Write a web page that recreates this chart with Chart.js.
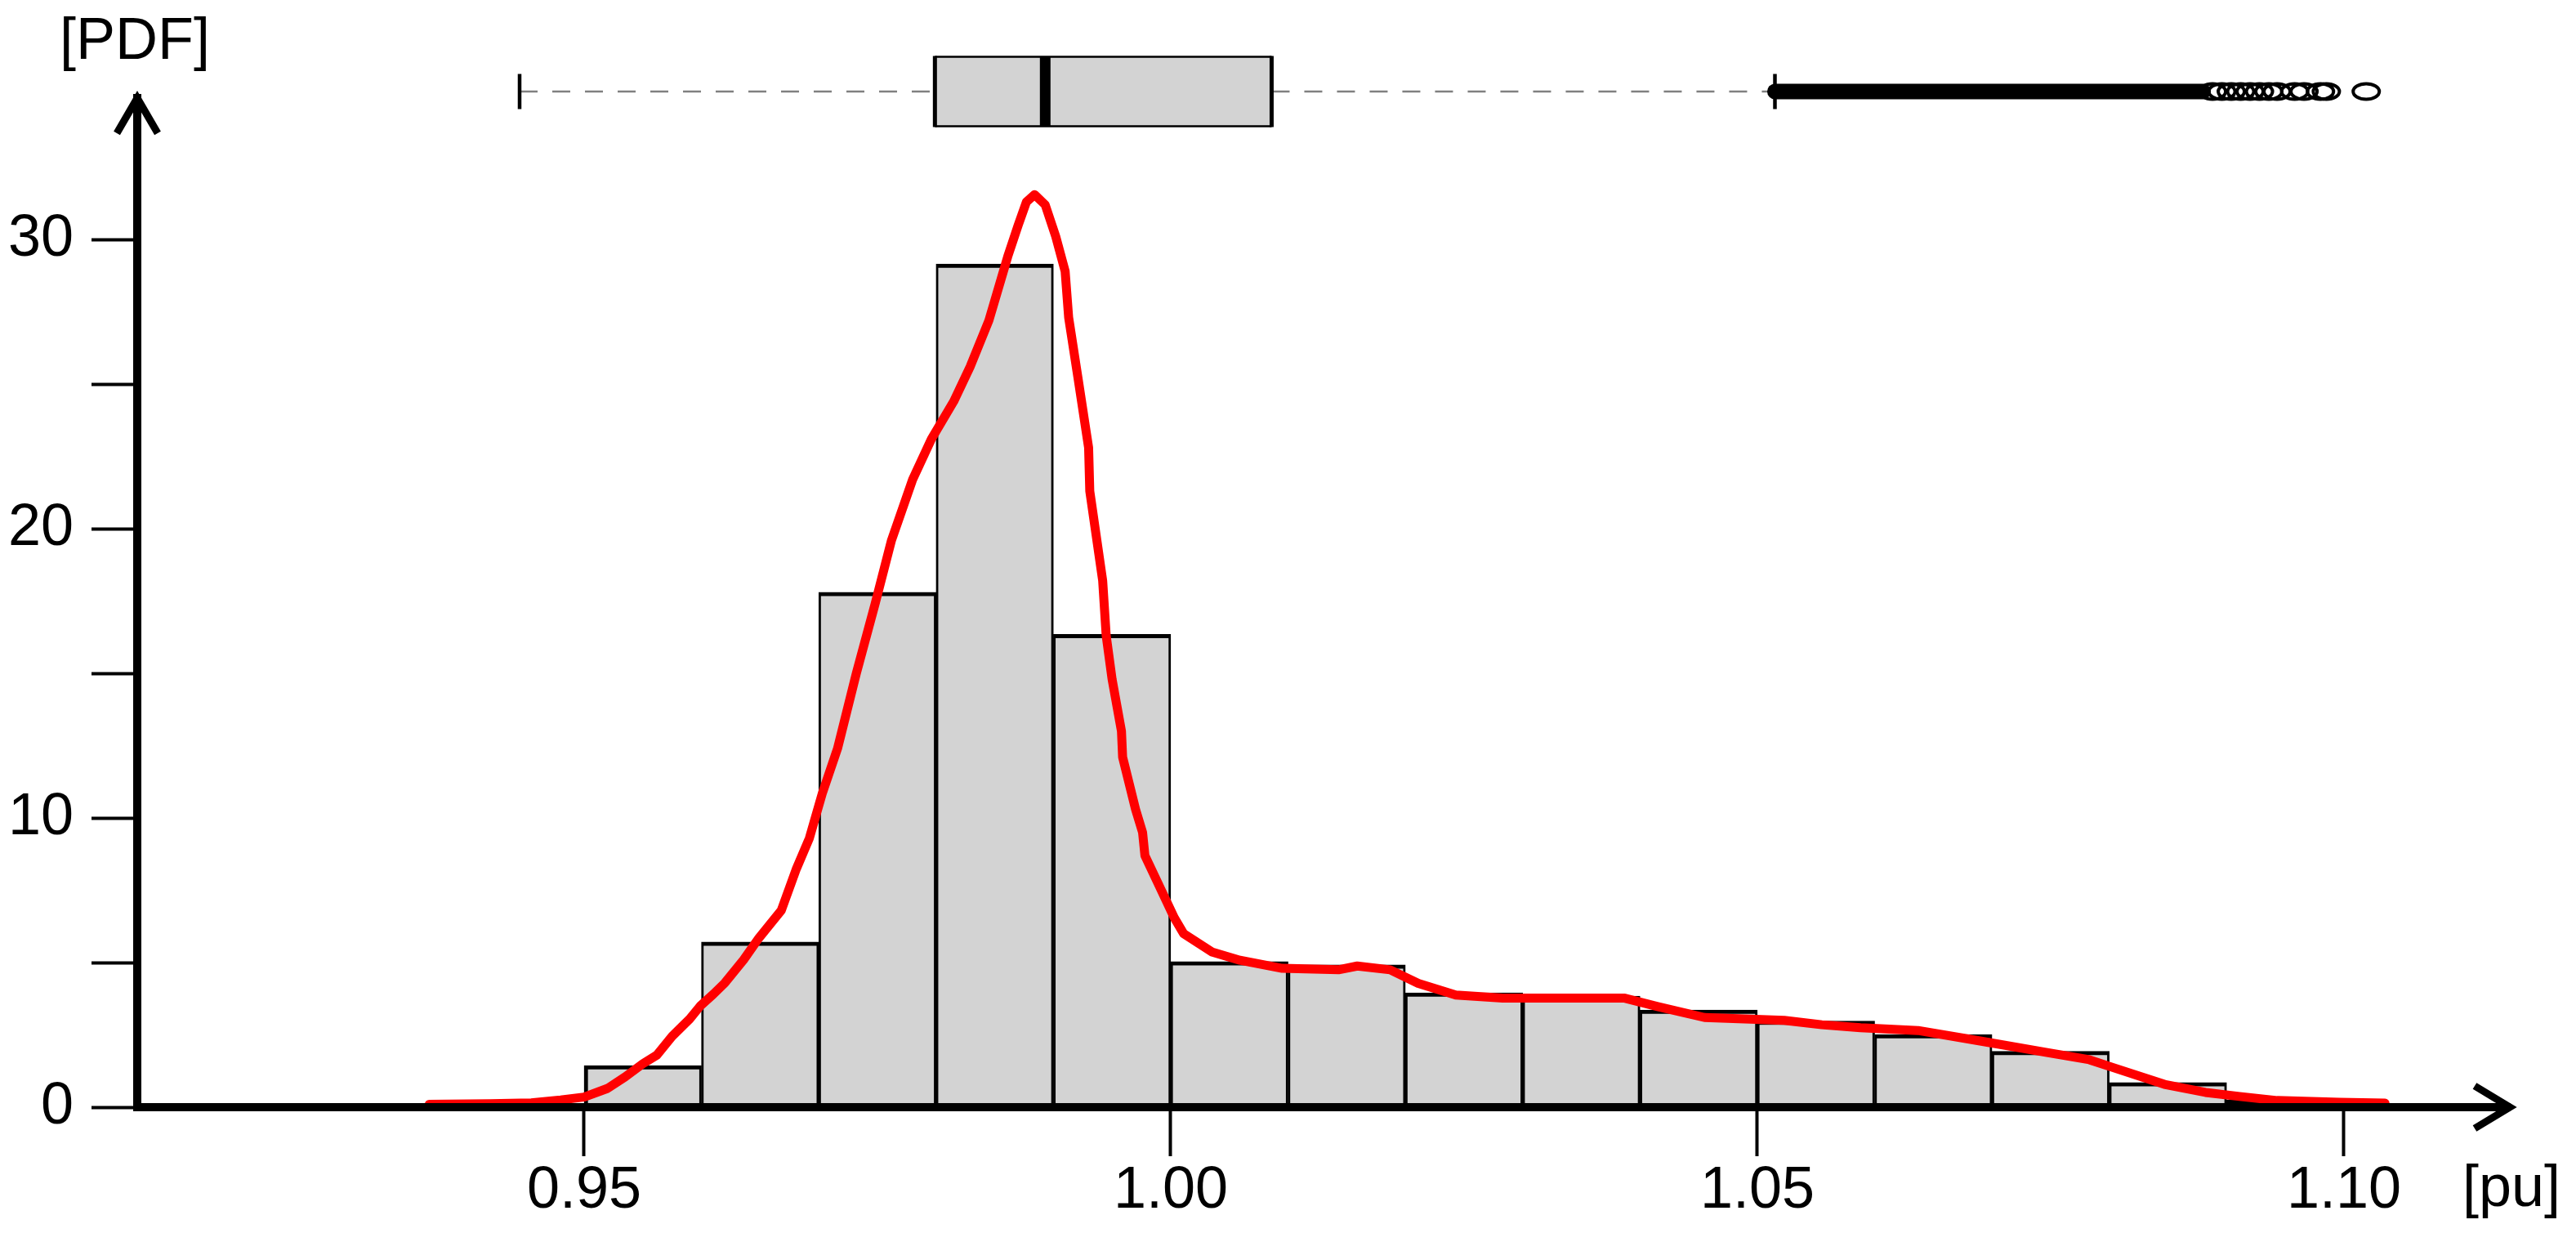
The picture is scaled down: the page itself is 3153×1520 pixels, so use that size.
<!DOCTYPE html>
<html>
<head>
<meta charset="utf-8">
<script src="https://cdn.jsdelivr.net/npm/chart.js@4.4.1/dist/chart.umd.min.js"></script>
<style>
  html, body { margin: 0; padding: 0; background: #ffffff; }
  #wrap { width: 3153px; height: 1520px; }
</style>
</head>
<body>
<div id="wrap"><canvas id="c" width="3153" height="1520"></canvas></div>
<script>
// ---------- data ----------
const binStarts  = [0.95, 0.96, 0.97, 0.98, 0.99, 1.00, 1.01, 1.02, 1.03, 1.04, 1.05, 1.06, 1.07, 1.08, 1.09];
const binWidth   = 0.01;
const binDensity = [1.44, 5.71, 17.8, 29.15, 16.35, 5.03, 4.92, 3.95, 3.84, 3.36, 2.98, 2.51, 1.93, 0.85, 0.25];

const kdeX = [0.9368, 0.9420, 0.9455, 0.9480, 0.9500, 0.9520, 0.9535, 0.9550, 0.9562, 0.9575,
              0.9590, 0.9599, 0.9610, 0.9620, 0.9636, 0.9649, 0.9668, 0.9681, 0.9692, 0.9703,
              0.9716, 0.9724, 0.9732, 0.9748, 0.9762, 0.9780, 0.9796, 0.9815, 0.9829, 0.9845,
              0.9861, 0.9870, 0.9877, 0.9884, 0.9893, 0.9902, 0.9910, 0.9913, 0.9921, 0.9930,
              0.9931, 0.9942, 0.9945, 0.9950, 0.9958, 0.9959, 0.9970, 0.9976, 0.9978, 0.9992,
              1.0003, 1.0011, 1.0035, 1.0059, 1.0095, 1.0143, 1.0159, 1.0187, 1.0211, 1.0243,
              1.0283, 1.0387, 1.0415, 1.0455, 1.0523, 1.0555, 1.0588, 1.0637, 1.0694, 1.0747,
              1.0783, 1.0804, 1.0847, 1.0882, 1.0911, 1.0943, 1.0996, 1.1035];
const kdeY = [0.10, 0.12, 0.15, 0.25, 0.35, 0.65, 1.05, 1.50, 1.80, 2.45,
              3.05, 3.50, 3.90, 4.30, 5.10, 5.85, 6.80, 8.25, 9.30, 10.85,
              12.4, 13.7, 15.0, 17.4, 19.6, 21.7, 23.1, 24.4, 25.6, 27.2,
              29.4, 30.5, 31.3, 31.55, 31.2, 30.1, 28.9, 27.3, 25.2, 22.8,
              21.3, 18.2, 16.3, 14.8, 13.0, 12.1, 10.3, 9.5, 8.7, 7.5,
              6.55, 6.0, 5.37, 5.08, 4.80, 4.75, 4.88, 4.75, 4.28, 3.88,
              3.77, 3.77, 3.48, 3.10, 3.00, 2.85, 2.75, 2.65, 2.26, 1.89,
              1.64, 1.36, 0.79, 0.51, 0.37, 0.23, 0.17, 0.14];

// boxplot: lower whisker, Q1, median, Q3, upper whisker
const boxStats    = [0.9445, 0.9799, 0.9893, 1.0086, 1.0515];
// extent of the solid run of overlapping outlier markers, then the separately visible outliers
const outlierBand = [1.0515, 1.0880];
const outliers    = [1.0888, 1.0896, 1.0904, 1.0912, 1.0920, 1.0928, 1.0936, 1.0943,
                     1.0958, 1.0966, 1.0980, 1.0985, 1.1019];

const xTicks      = [0.95, 1.00, 1.05, 1.10];
const xTickLabels = ['0.95', '1.00', '1.05', '1.10'];
const yTicks      = [0, 5, 10, 15, 20, 25, 30];
const yTickLabels = ['0', '', '10', '', '20', '', '30'];
const xRange      = [0.91191, 1.11414];
const yRange      = [0, 34.89];
const xTitle      = '[pu]';
const yTitle      = '[PDF]';

// ---------- chart ----------
const FONT = "'Liberation Sans', Arial, Helvetica, sans-serif";
Chart.defaults.font.family = FONT;

const decor = {
  id: 'decor',
  afterDraw(chart) {
    const ctx = chart.ctx;
    const xs = chart.scales.x, ys = chart.scales.y;
    const ax = xs.getPixelForValue(xRange[0]);
    const ay = ys.getPixelForValue(0);
    const tipY = ys.getPixelForValue(yRange[1]);
    const tipX = xs.getPixelForValue(xRange[1]);
    ctx.save();
    // arrow heads
    ctx.strokeStyle = '#000'; ctx.lineWidth = 9; ctx.lineJoin = 'miter'; ctx.lineCap = 'butt';
    ctx.beginPath();
    ctx.moveTo(ax - 25, tipY + 43); ctx.lineTo(ax, tipY); ctx.lineTo(ax + 25, tipY + 43);
    ctx.stroke();
    ctx.beginPath();
    ctx.moveTo(tipX - 43, ay - 26); ctx.lineTo(tipX, ay); ctx.lineTo(tipX - 43, ay + 26);
    ctx.stroke();
    // axis titles
    ctx.fillStyle = '#000';
    ctx.font = '72px ' + FONT;
    ctx.textAlign = 'center'; ctx.textBaseline = 'alphabetic';
    ctx.fillText(yTitle, ax - 3, 72);
    ctx.fillText(xTitle, tipX + 2, ay + 121);

    // boxplot
    const cy = tipY - 8;
    const px = v => xs.getPixelForValue(v);
    const [lw, q1, med, q3, hw] = boxStats.map(px);
    // dashed whiskers
    ctx.strokeStyle = '#808080'; ctx.lineWidth = 2.5; ctx.setLineDash([22, 18]);
    ctx.beginPath(); ctx.moveTo(lw, cy); ctx.lineTo(q1, cy); ctx.stroke();
    ctx.beginPath(); ctx.moveTo(q3, cy); ctx.lineTo(hw, cy); ctx.stroke();
    ctx.setLineDash([]);
    // whisker caps
    ctx.strokeStyle = '#000'; ctx.lineWidth = 4.5;
    ctx.beginPath(); ctx.moveTo(lw, cy - 21.5); ctx.lineTo(lw, cy + 21.5); ctx.stroke();
    ctx.beginPath(); ctx.moveTo(hw, cy - 21.5); ctx.lineTo(hw, cy + 21.5); ctx.stroke();
    // box
    ctx.fillStyle = '#d3d3d3';
    ctx.fillRect(q1, cy - 42.5, q3 - q1, 85);
    ctx.lineWidth = 2.5;
    ctx.beginPath();
    ctx.moveTo(q1, cy - 42.5); ctx.lineTo(q3, cy - 42.5);
    ctx.moveTo(q1, cy + 42.5); ctx.lineTo(q3, cy + 42.5);
    ctx.stroke();
    ctx.lineWidth = 5;
    ctx.beginPath();
    ctx.moveTo(q1, cy - 43.5); ctx.lineTo(q1, cy + 43.5);
    ctx.moveTo(q3, cy - 43.5); ctx.lineTo(q3, cy + 43.5);
    ctx.stroke();
    ctx.lineWidth = 13;
    ctx.beginPath(); ctx.moveTo(med, cy - 42.5); ctx.lineTo(med, cy + 42.5); ctx.stroke();
    // outliers
    ctx.lineCap = 'round'; ctx.lineWidth = 19;
    ctx.beginPath(); ctx.moveTo(px(outlierBand[0]), cy); ctx.lineTo(px(outlierBand[1]), cy); ctx.stroke();
    ctx.lineCap = 'butt'; ctx.lineWidth = 4;
    outliers.forEach(v => {
      ctx.beginPath(); ctx.ellipse(px(v), cy, 16, 9.5, 0, 0, Math.PI * 2); ctx.stroke();
    });
    ctx.restore();
  }
};

const lastBin = binStarts.length - 1;
new Chart(document.getElementById('c'), {
  type: 'bar',
  data: {
    datasets: [
      {
        type: 'line',
        data: kdeX.map((x, i) => ({ x: x, y: kdeY[i] })),
        borderColor: '#ff0000',
        borderWidth: 11,
        pointRadius: 0,
        tension: 0,
        fill: false,
        borderJoinStyle: 'round',
        borderCapStyle: 'round',
        order: 0
      },
      {
        type: 'bar',
        data: binStarts.map((s, i) => ({ x: s + binWidth / 2, y: binDensity[i] })),
        backgroundColor: '#d3d3d3',
        borderColor: '#000000',
        borderWidth: c => ({
          top: 5,
          left: c.dataIndex === 0 ? 5 : 3,
          right: c.dataIndex === lastBin ? 5 : 3,
          bottom: 0
        }),
        borderSkipped: false,
        barPercentage: 1,
        categoryPercentage: 1,
        order: 1
      }
    ]
  },
  options: {
    responsive: false,
    animation: false,
    devicePixelRatio: 1,
    layout: { padding: { top: 120, right: 81, bottom: 0, left: 0 } },
    plugins: { legend: { display: false }, tooltip: { enabled: false }, title: { display: false } },
    scales: {
      x: {
        type: 'linear',
        min: xRange[0], max: xRange[1],
        offset: false,
        afterBuildTicks: s => { s.ticks = xTicks.map(v => ({ value: v })); },
        afterFit: s => { s.height = 165; },
        ticks: {
          callback: (v, i) => xTickLabels[i],
          font: { size: 72 }, color: '#000', padding: 0,
          maxRotation: 0, autoSkip: false
        },
        grid: { display: true, offset: false, drawOnChartArea: false, drawTicks: true,
                tickLength: 60, tickWidth: 4, tickColor: '#000' },
        border: { display: true, color: '#000', width: 10, z: 1 }
      },
      y: {
        type: 'linear',
        min: yRange[0], max: yRange[1],
        afterBuildTicks: s => { s.ticks = yTicks.map(v => ({ value: v })); },
        afterFit: s => { s.width = 168; },
        ticks: {
          callback: (v, i) => yTickLabels[i],
          font: { size: 72 }, color: '#000', padding: 22, autoSkip: false
        },
        grid: { display: true, drawOnChartArea: false, drawTicks: true,
                tickLength: 56, tickWidth: 4, tickColor: '#000' },
        border: { display: true, color: '#000', width: 10, z: 1 }
      }
    }
  },
  plugins: [decor]
});
</script>
</body>
</html>
